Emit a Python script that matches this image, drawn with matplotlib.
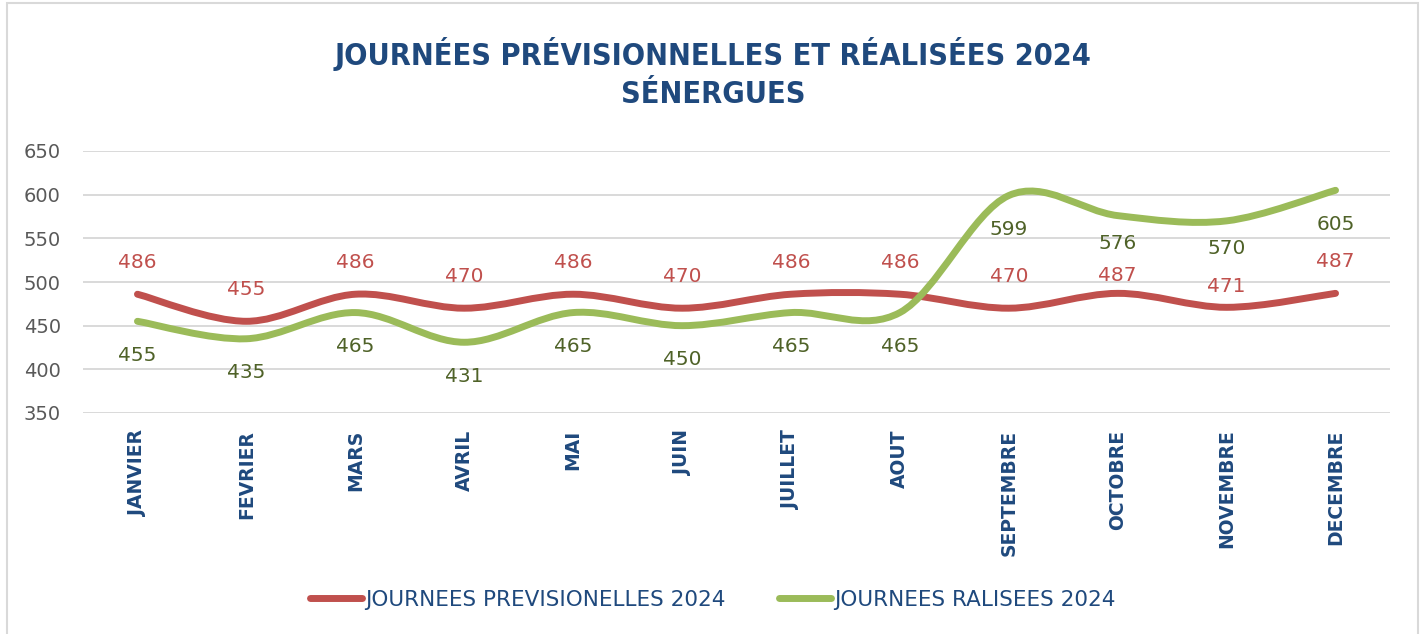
import numpy as np
import matplotlib
matplotlib.use('Agg')
import matplotlib.pyplot as plt
from matplotlib.path import Path
from matplotlib.patches import PathPatch, Rectangle
from matplotlib.lines import Line2D

months = ['JANVIER', 'FEVRIER', 'MARS', 'AVRIL', 'MAI', 'JUIN', 'JUILLET',
          'AOUT', 'SEPTEMBRE', 'OCTOBRE', 'NOVEMBRE', 'DECEMBRE']
previsionnelles = [486, 455, 486, 470, 486, 470, 486, 486, 470, 487, 471, 487]
realisees = [455, 435, 465, 431, 465, 450, 465, 465, 599, 576, 570, 605]

series_names = ['JOURNEES PREVISIONELLES 2024', 'JOURNEES RALISEES 2024']
title = 'JOURNÉES PRÉVISIONNELLES ET RÉALISÉES 2024\nSÉNERGUES'

RED = '#C0504D'
GREEN = '#9BBB59'
RED_TXT = '#C0504D'
GREEN_TXT = '#4F6228'
BLUE = '#1F497D'
GRID = '#D9D9D9'


def smooth_path(xs, ys):
    # excel-like smoothed line: cubic bezier with catmull-rom control points
    pts = np.column_stack([xs, ys]).astype(float)
    n = len(pts)
    verts = [pts[0]]
    codes = [Path.MOVETO]
    for i in range(n - 1):
        p0 = pts[max(i - 1, 0)]
        p1 = pts[i]
        p2 = pts[i + 1]
        p3 = pts[min(i + 2, n - 1)]
        c1 = p1 + (p2 - p0) / 6.0
        c2 = p2 - (p3 - p1) / 6.0
        verts += [c1, c2, p2]
        codes += [Path.CURVE4] * 3
    return Path(verts, codes)


fig = plt.figure(figsize=(14.26, 6.34), dpi=100)
ax = fig.add_axes([83 / 1426, 1 - 413 / 634, (1390 - 83) / 1426, (413 - 151) / 634])

x = np.arange(len(months))
for vals, col in [(previsionnelles, RED), (realisees, GREEN)]:
    patch = PathPatch(smooth_path(x, vals), facecolor='none', edgecolor=col,
                      lw=5, capstyle='round', joinstyle='round', zorder=3)
    ax.add_patch(patch)

# label offsets in points (labels pushed closer where the two series crowd)
red_off = [23] * 12
green_off = [-24.5] * 12
red_off[9], green_off[9] = 12.5, -20
red_off[10], green_off[10] = 15, -20

for xi, v, off in zip(x, previsionnelles, red_off):
    ax.annotate(str(v), (xi, v), xytext=(0, off), textcoords='offset points',
                ha='center', va='center', fontsize=14.5, color=RED_TXT)
for xi, v, off in zip(x, realisees, green_off):
    ax.annotate(str(v), (xi, v), xytext=(0, off), textcoords='offset points',
                ha='center', va='center', fontsize=14.5, color=GREEN_TXT)

ax.set_xlim(-0.5, 11.5)
ax.set_ylim(350, 650)
ax.set_yticks(np.arange(350, 651, 50))
ax.set_xticks(x)
ax.set_xticklabels(months, rotation=90, fontsize=13.5, fontweight='bold', color=BLUE)
ax.tick_params(axis='x', length=0, pad=12)
ax.tick_params(axis='y', length=0, pad=16, labelsize=14, labelcolor='#595959')
ax.grid(axis='y', color=GRID, lw=1.4)
ax.set_axisbelow(True)
for s in ax.spines.values():
    s.set_visible(False)

fig.text(0.5, 1 - 73 / 634, title, ha='center', va='center', fontsize=22,
         fontweight='bold', fontstretch='condensed', color=BLUE, linespacing=1.4,
         family='DejaVu Sans')

handles = [Line2D([], [], color=RED, lw=5, solid_capstyle='round'),
           Line2D([], [], color=GREEN, lw=5, solid_capstyle='round')]
leg = fig.legend(handles, series_names, loc='center', bbox_to_anchor=(0.5, 1 - 600 / 634),
                 ncol=2, frameon=False, handlelength=2.4, handletextpad=0.15,
                 columnspacing=2.5, prop={'size': 15.5})
for t in leg.get_texts():
    t.set_color(BLUE)

fig.patches.append(Rectangle((7 / 1426, -0.01), (1418 - 7) / 1426, 1 - 3 / 634 + 0.01,
                             transform=fig.transFigure, fill=False,
                             edgecolor=GRID, lw=1.5))

fig.savefig('out.png', dpi=100)
